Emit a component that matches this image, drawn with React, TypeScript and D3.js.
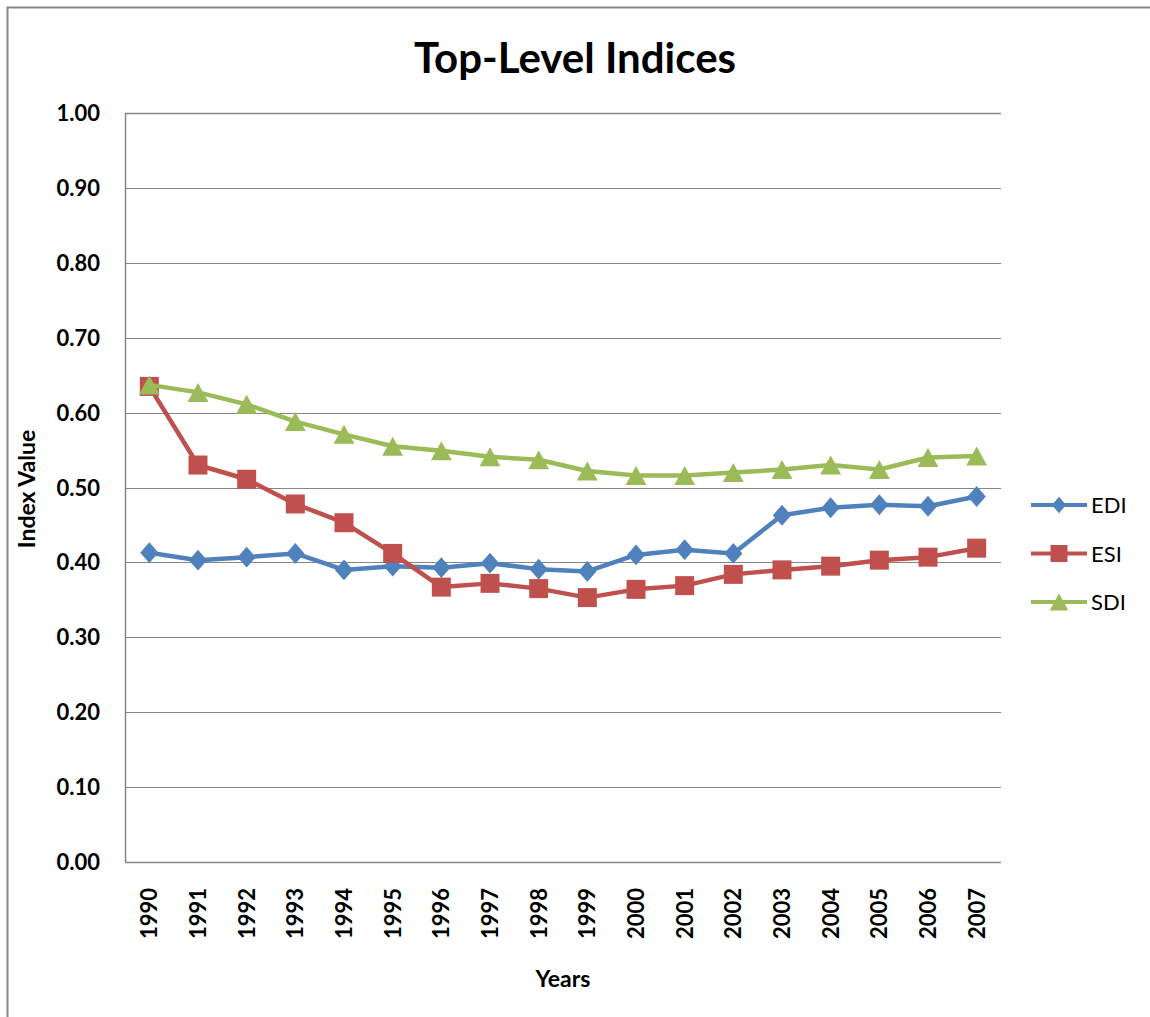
import React from 'react'
import * as d3 from 'd3'

// 年份与三个指数
const years = ['1990', '1991', '1992', '1993', '1994', '1995', '1996', '1997', '1998', '1999', '2000', '2001', '2002', '2003', '2004', '2005', '2006', '2007']
const edi = [0.413, 0.403, 0.407, 0.412, 0.39, 0.395, 0.393, 0.399, 0.391, 0.388, 0.41, 0.417, 0.412, 0.463, 0.473, 0.477, 0.475, 0.488]
const esi = [0.635, 0.53, 0.511, 0.478, 0.453, 0.412, 0.367, 0.372, 0.365, 0.353, 0.364, 0.369, 0.384, 0.39, 0.395, 0.403, 0.407, 0.419]
const sdi = [0.637, 0.627, 0.611, 0.588, 0.571, 0.555, 0.549, 0.541, 0.537, 0.522, 0.516, 0.516, 0.52, 0.524, 0.53, 0.524, 0.54, 0.542]
const yTicks = [0, 0.1, 0.2, 0.3, 0.4, 0.5, 0.6, 0.7, 0.8, 0.9, 1.0]

const seriesNames = ['EDI', 'ESI', 'SDI']
const seriesColors = ['#4F81BD', '#C0504D', '#9BBB59']
const seriesShapes = ['diamond', 'square', 'triangle']

const W = 1150
const H = 1017
const left = 125
const right = 1001
const top = 113
const bottom = 862
const font = 'Lato, "Open Sans", sans-serif'
const grid = '#868686'

// 标记形状
function marker(shape: string, x: number, y: number, s: number) {
  if (shape === 'square') {
    return `M${x - s / 2},${y - s / 2}h${s}v${s}h${-s}Z`
  }
  if (shape === 'diamond') {
    const w = s * 0.48
    const h = s * 0.55
    return `M${x},${y - h}L${x + w},${y}L${x},${y + h}L${x - w},${y}Z`
  }
  const w = s * 0.55
  const h = s * 0.5
  return `M${x},${y - h}L${x + w},${y + h}L${x - w},${y + h}Z`
}

export default function App() {
  const xScale = d3.scaleBand().domain(years).range([left, right]).padding(0)
  const yScale = d3.scaleLinear().domain([0, 1]).range([bottom, top])
  const cx = (d: string) => (xScale(d) as number) + xScale.bandwidth() / 2

  const data = [edi, esi, sdi]
  const line = d3
    .line<number>()
    .x((_, i) => cx(years[i]))
    .y((v) => yScale(v))

  return (
    <svg width={W} height={H} style={{ position: 'absolute', left: 0, top: 0, background: '#fff' }}>
      <rect x={7.5} y={7.5} width={W + 20} height={H + 20} fill="#fff" stroke={grid} strokeWidth={2} />

      <text x={575} y={73} textAnchor="middle" fontFamily={font} fontWeight="bold" fontSize={42}>
        Top-Level Indices
      </text>

      {/* 网格线 */}
      {yTicks.map((t) => (
        <line key={t} x1={left} x2={right} y1={Math.round(yScale(t)) + 0.5} y2={Math.round(yScale(t)) + 0.5} stroke={grid} strokeWidth={t === 0 || t === 1 ? 1.5 : 1} />
      ))}
      <line x1={left + 0.5} x2={left + 0.5} y1={top} y2={bottom} stroke={grid} strokeWidth={1.5} />

      {/* y 轴刻度 */}
      {yTicks.map((t) => (
        <text key={t} x={100} y={yScale(t) + 8} textAnchor="end" fontFamily={font} fontWeight="bold" fontSize={22}>
          {t.toFixed(2)}
        </text>
      ))}

      {/* x 轴刻度 */}
      {years.map((y) => (
        <text key={y} transform={`translate(${cx(y) + 8},${888}) rotate(-90)`} textAnchor="end" fontFamily={font} fontWeight="bold" fontSize={22}>
          {y}
        </text>
      ))}

      <text transform="translate(35,489) rotate(-90)" textAnchor="middle" fontFamily={font} fontWeight="bold" fontSize={23}>
        Index Value
      </text>
      <text x={563} y={987} textAnchor="middle" fontFamily={font} fontWeight="bold" fontSize={23}>
        Years
      </text>

      {/* 折线与标记 */}
      {data.map((vals, k) => (
        <g key={seriesNames[k]}>
          <path d={line(vals) as string} fill="none" stroke={seriesColors[k]} strokeWidth={4.5} strokeLinejoin="round" />
          {vals.map((v, i) => (
            <path key={i} d={marker(seriesShapes[k], cx(years[i]), yScale(v), 19)} fill={seriesColors[k]} />
          ))}
        </g>
      ))}

      {/* 图例 */}
      {seriesNames.map((n, k) => {
        const ly = 505 + k * 48.5
        return (
          <g key={n}>
            <line x1={1031} x2={1087} y1={ly} y2={ly} stroke={seriesColors[k]} strokeWidth={4} />
            <path d={marker(seriesShapes[k], 1059, ly, k === 0 ? 15 : 17)} fill={seriesColors[k]} />
            <text x={1091} y={ly + 8} fontFamily={font} fontSize={22}>
              {n}
            </text>
          </g>
        )
      })}
    </svg>
  )
}
